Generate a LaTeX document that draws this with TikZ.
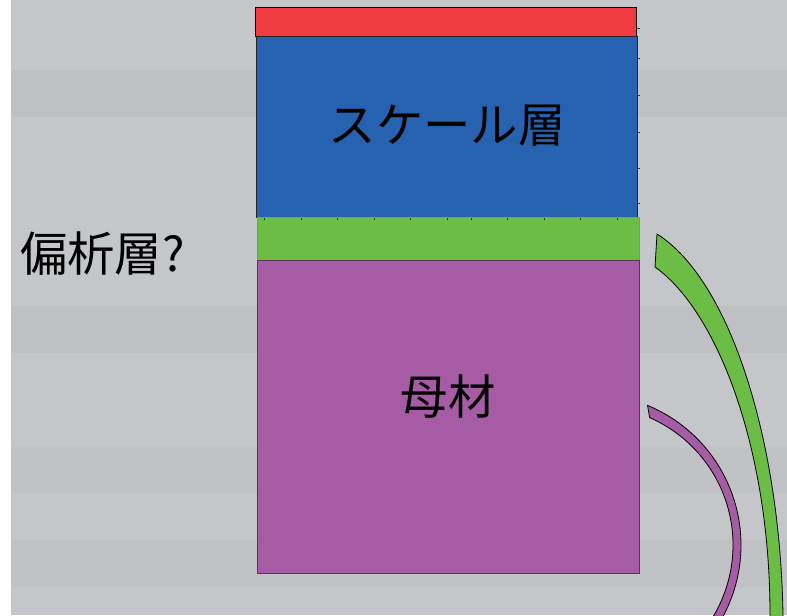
\documentclass[tikz,border=0pt]{standalone}
\usepackage{fontspec}
\newfontfamily\jp{Noto Sans CJK JP}
\definecolor{bg}{RGB}{197,198,202}
\definecolor{bgd}{RGB}{191,192,196}
\definecolor{scred}{RGB}{240,60,65}
\definecolor{scblue}{RGB}{38,98,176}
\definecolor{scgreen}{RGB}{108,189,69}
\definecolor{scpurple}{RGB}{166,92,165}
\begin{document}
\begin{tikzpicture}[x=0.75pt,y=-0.75pt,
  lbl/.style={font=\jp\fontsize{35.5}{40}\selectfont, text=black, inner sep=0pt},
  tick/.style={draw=black!80, line width=0.6pt},
  edge/.style={line width=0.6pt}]
\useasboundingbox (0,0) rectangle (787,615);
\begin{scope}
\clip (0,0) rectangle (787,615);
% background
\fill[white] (0,0) rectangle (787,615);
\fill[bg] (11,0) rectangle (787,615);
\fill[bgd] (11,70) rectangle (787,117);
\fill[bgd] (11,306) rectangle (787,353);
\fill[bgd!60!bg] (11,447) rectangle (787,493);
\fill[bgd!70!bg] (11,540) rectangle (787,587);
% layers
\filldraw[fill=scred, draw=black, edge] (255,7) rectangle (636,36);
\filldraw[fill=scblue, draw=black!85, edge] (256,36) rectangle (637,217);
\filldraw[fill=scgreen, draw=scgreen!60!black!70, edge] (257,217) rectangle (639,260);
\filldraw[fill=scpurple, draw=scpurple!55!black, edge] (257,260) rectangle (639,573);
% ticks
\foreach \ty in {28,58,95,132,168,203} \draw[tick] (637,\ty) -- (639.5,\ty);
\foreach \tx in {264,301,337,374,410,447,471,507,544,580,617} \draw[tick] (\tx,217.5) -- (\tx,219.5);
% arcs
\filldraw[fill=scgreen, draw=black, edge] (657,234) .. controls (730,280) and (780,440) .. (783,615) -- (783,625) -- (770,625) -- (770,615) .. controls (770,450) and (718,312) .. (655,267) -- cycle;
\filldraw[fill=scpurple, draw=black, edge] ([shift={(-67.6:151)}]590,545) arc[start angle=-67.6, end angle=35, radius=151] -- ([shift={(35:139)}]594,545) arc[start angle=35, end angle=-66.4, radius=139] -- cycle;
\end{scope}
% labels
\node[lbl] (scale) at (447,126) {スケール層};
\node[lbl] (base) at (448,397) {母材};
\node[lbl, anchor=west] (seg) at (20,254) {偏析層?};
\end{tikzpicture}
\end{document}
